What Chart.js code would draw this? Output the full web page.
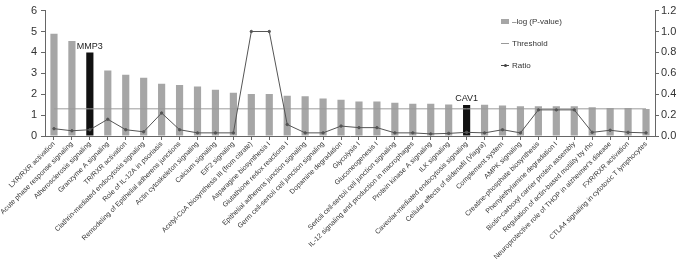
<!DOCTYPE html>
<html>
<head>
<meta charset="utf-8">
<script src="https://cdn.jsdelivr.net/npm/chart.js@4.4.1/dist/chart.umd.min.js"></script>
<style>
  html, body { margin: 0; padding: 0; background: #fff; }
  #wrap { position: relative; width: 678px; height: 263px; }
  #legend { position: absolute; left: 501px; top: 15px; font: 8px "Liberation Sans", Arial, sans-serif; color: #333; }
  #legend div { display: flex; align-items: center; height: 12px; margin-bottom: 10px; }
  #legend .sw { display: inline-block; width: 8px; margin-right: 3px; position: relative; }
</style>
</head>
<body>
<div id="wrap">
  <canvas id="chart"></canvas>
  <div id="legend">
    <div><span class="sw" style="height:5px;background:#a6a6a6"></span>–log (P-value)</div>
    <div><span class="sw" style="height:1px;background:#999"></span>Threshold</div>
    <div><span class="sw" style="height:1px;background:#444"><span style="position:absolute;left:3px;top:-1px;width:3px;height:3px;background:#444;border-radius:50%"></span></span>Ratio</div>
  </div>
</div>
<script>
// Voies canoniques
const categories = [
    'LXR/RXR activation',
    'Acute phase response signaling',
    'Atherosclerosis signaling',
    'Granzyme A signaling',
    'TR/RXR activation',
    'Clathrin-mediated endocytosis signaling',
    'Role of IL-12A in psoriasis',
    'Remodeling of Epithelial adherens junctions',
    'Actin cytoskeleton signaling',
    'Calcium signaling',
    'EIF2 signaling',
    'Acetyl-CoA biosynthesis III (from citrate)',
    'Asparagine biosynthesis I',
    'Glutathione redox reactions I',
    'Epithelial adherens junction signaling',
    'Germ cell-sertoli cell junction signaling',
    'Dopamine degradation',
    'Glycolysis I',
    'Gluconeogenesis I',
    'Sertoli cell-sertoli cell junction signaling',
    'IL-12 signaling and production in macrophages',
    'Protein kinase A signaling',
    'ILK signaling',
    'Caveolar-mediated endocytosis signaling',
    'Cellular effects of sildenafil (Viagra)',
    'Complement system',
    'AMPK signaling',
    'Creatine-phosphate biosynthesis',
    'Phenylethylamine degradation I',
    'Biotin-carboxyl carrier protein assembly',
    'Regulation of actin-based motility by rho',
    "Neuroprotective role of THOP in alzheimer's disease",
    'FXR/RXR activation',
    'CTLA4 signaling in cytotoxic T lymphocytes'
];

// -log(P-value), axe de gauche
const logP = [4.89, 4.55, 3.99, 3.13, 2.93, 2.79, 2.50, 2.44, 2.37, 2.21, 2.07,
    2.01, 2.01, 1.93, 1.90, 1.79, 1.74, 1.65, 1.65, 1.59, 1.54, 1.54, 1.51, 1.48,
    1.49, 1.46, 1.42, 1.42, 1.42, 1.42, 1.37, 1.34, 1.34, 1.29];

// Ratio, axe de droite
const ratio = [0.07, 0.05, 0.06, 0.16, 0.06, 0.04, 0.22, 0.06, 0.03, 0.03, 0.03,
    1.0, 1.0, 0.11, 0.03, 0.03, 0.095, 0.08, 0.08, 0.03, 0.03, 0.02, 0.025, 0.035,
    0.03, 0.06, 0.03, 0.25, 0.25, 0.25, 0.035, 0.055, 0.035, 0.03];

const thresholdValue = 1.3;

// Gènes mis en évidence (index de la barre -> étiquette)
const highlightIdx = [2, 23];
const highlightLabels = ['MMP3', 'CAV1'];

const leftTicks = [0, 1, 2, 3, 4, 5, 6];
const rightTicks = [0, 0.2, 0.4, 0.6, 0.8, 1.0, 1.2];

const FONT = "'Liberation Sans', Arial, sans-serif";

const barColors = logP.map((v, i) => highlightIdx.includes(i) ? '#111111' : '#a6a6a6');

// Petites étiquettes au-dessus des barres noires
const geneLabels = {
    id: 'geneLabels',
    afterDatasetsDraw(chart) {
        const c = chart.ctx;
        const xs = chart.scales.x, ys = chart.scales.y;
        c.save();
        c.font = '9px ' + FONT;
        c.fillStyle = '#222';
        c.textAlign = 'center';
        c.textBaseline = 'bottom';
        highlightIdx.forEach((idx, k) => {
            c.fillText(highlightLabels[k], xs.getPixelForValue(idx), ys.getPixelForValue(logP[idx]) - 2);
        });
        c.restore();
    }
};

const ctx = document.getElementById('chart').getContext('2d');
const chart = new Chart(ctx, {
    data: {
        labels: categories,
        datasets: [
            {
                type: 'line',
                label: 'Ratio',
                data: ratio,
                yAxisID: 'y1',
                borderColor: '#555',
                backgroundColor: '#555',
                borderWidth: 1,
                pointRadius: 1.2,
                tension: 0,
                order: 1
            },
            {
                type: 'line',
                label: 'Threshold',
                data: categories.map(() => thresholdValue),
                yAxisID: 'y',
                borderColor: '#9a9a9a',
                borderWidth: 1,
                pointRadius: 0,
                order: 2
            },
            {
                type: 'bar',
                label: '–log (P-value)',
                data: logP,
                yAxisID: 'y',
                backgroundColor: barColors,
                categoryPercentage: 1,
                barPercentage: 0.4,
                order: 3
            }
        ]
    },
    options: {
        responsive: true,
        maintainAspectRatio: false,
        animation: false,
        layout: { padding: { top: 1, left: 0, right: 0, bottom: 0 } },
        plugins: {
            legend: { display: false },
            tooltip: { enabled: false }
        },
        scales: {
            x: {
                offset: true,
                afterFit: s => { s.height = 127; },
                grid: { offset: false, drawOnChartArea: false, tickLength: 4, color: '#666' },
                border: { color: '#666' },
                ticks: {
                    autoSkip: false,
                    maxRotation: 45,
                    minRotation: 45,
                    padding: 0,
                    color: '#333',
                    font: { family: FONT, size: 7 }
                }
            },
            y: {
                position: 'left',
                min: 0,
                max: 6,
                afterFit: s => { s.width = 45; },
                afterBuildTicks: s => { s.ticks = leftTicks.map(v => ({ value: v })); },
                grid: { drawOnChartArea: false, tickLength: 4, color: '#666' },
                border: { color: '#666' },
                ticks: { padding: 4, color: '#333', font: { family: FONT, size: 11 } }
            },
            y1: {
                position: 'right',
                min: 0,
                max: 1.2,
                afterFit: s => { s.width = 23; },
                afterBuildTicks: s => { s.ticks = rightTicks.map(v => ({ value: v })); },
                grid: { drawOnChartArea: false, tickLength: 4, color: '#666' },
                border: { color: '#666' },
                ticks: {
                    padding: 2,
                    color: '#333',
                    font: { family: FONT, size: 11 },
                    callback: v => Number(v).toFixed(1)
                }
            }
        }
    },
    plugins: [geneLabels]
});
</script>
</body>
</html>
